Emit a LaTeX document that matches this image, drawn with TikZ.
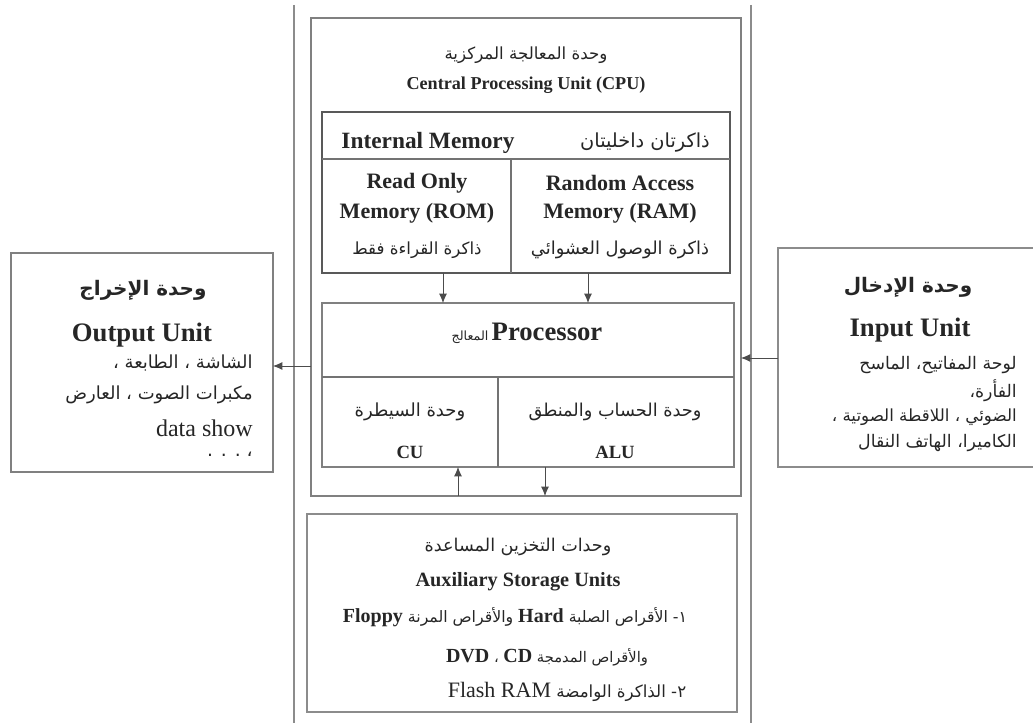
\documentclass[tikz,border=0pt]{standalone}
\usepackage{fontspec}
\setmainfont{Liberation Serif}
\newfontfamily\arabicfont[Script=Arabic]{DejaVu Sans}
\TeXXeTstate=1
\usetikzlibrary{fit,arrows.meta}
\newcommand{\artxt}[2][12]{{\fontsize{#1}{#1}\arabicfont\beginR #2\endR}}
\newcommand{\artxtb}[2][12]{{\fontsize{#1}{#1}\arabicfont\bfseries\beginR #2\endR}}
\newcommand{\latb}[2]{\beginL{\fontsize{#1}{#1}\rmfamily\bfseries #2}\endL{}}
\newcommand{\latr}[2]{\beginL{\fontsize{#1}{#1}\rmfamily\mdseries #2}\endL{}}
\begin{document}
\begin{tikzpicture}[x=0.75pt,y=-0.75pt,
  box/.style={draw=black!50, line width=1.4pt, inner sep=0pt, outer sep=0pt},
  membox/.style={draw=black!65, line width=1.3pt, inner sep=0pt, outer sep=0pt},
  thinbox/.style={draw=black!45, line width=1.1pt, inner sep=0pt, outer sep=0pt},
  divline/.style={draw=black!55, line width=1.1pt},
  outerline/.style={draw=black!45, line width=1.5pt},
  lbl/.style={inner sep=0pt, text=black!85},
  arr/.style={draw=black!70, line width=0.7pt, -{Latex[length=7pt,width=6pt]}}]
\useasboundingbox (0,0) rectangle (1033,723);
\fill[white] (0,0) rectangle (1033,723);
% outer vertical lines
\draw[outerline] (294,5) -- (294,723);
\draw[outerline] (751,5) -- (751,723);
% boxes
\node[box, fit={(311,18)(741,496)}] (cpu) {};
\node[membox, fit={(322,112)(730,273)}] (mem) {};
\draw[divline] (322,159) -- (730,159);
\draw[divline] (511,159) -- (511,273);
\node[box, fit={(322,303)(734,467)}] (proc) {};
\draw[divline] (322,377) -- (734,377);
\draw[divline] (498,377) -- (498,467);
\node[thinbox, fit={(307,514)(737,712)}] (aux) {};
\node[box, fit={(11,253)(273,472)}] (out) {};
\node[thinbox, fit={(778,248)(1045,467)}] (inp) {};
% arrows
\coordinate (xa) at (443,0);
\coordinate (xb) at (588,0);
\coordinate (xc) at (458,0);
\coordinate (xd) at (545,0);
\coordinate (yo) at (0,366);
\coordinate (yi) at (0,358);
\draw[arr] (xa |- mem.south) -- (xa |- proc.north);
\draw[arr] (xb |- mem.south) -- (xb |- proc.north);
\draw[arr] (xc |- cpu.south) -- (xc |- proc.south);
\draw[arr] (xd |- proc.south) -- (xd |- cpu.south);
\draw[arr] (yo -| cpu.west) -- (yo -| out.east);
\draw[arr] (yi -| inp.west) -- (yi -| cpu.east);
% CPU texts
\node[lbl] (cpuar) at (526,55) {\artxt[12.5]{وحدة المعالجة المركزية}};
\node[lbl, font=\bfseries\fontsize{13.6}{16}\selectfont] (cpuen) at (526,85) {Central Processing Unit (CPU)};
\node[lbl, font=\bfseries\fontsize{17.5}{20}\selectfont] (memen) at (428,143) {Internal Memory};
\node[lbl] (memar) at (645,143) {\artxt[14.5]{ذاكرتان داخليتان}};
\node[lbl, font=\bfseries\fontsize{16.5}{19}\selectfont] (rom1) at (417,183) {Read Only};
\node[lbl, font=\bfseries\fontsize{16.5}{19}\selectfont] (rom2) at (417,213) {Memory (ROM)};
\node[lbl] (romar) at (417,250) {\artxt[12.5]{ذاكرة القراءة فقط}};
\node[lbl, font=\bfseries\fontsize{16.5}{19}\selectfont] (ram1) at (620,183) {Random Access};
\node[lbl, font=\bfseries\fontsize{16.5}{19}\selectfont] (ram2) at (620,213) {Memory (RAM)};
\node[lbl] (ramar) at (620,250) {\artxt[13.4]{ذاكرة الوصول العشوائي}};
\node[lbl] (procl) at (527,333) {\artxt[9.5]{المعالج} {\bfseries\fontsize{20}{22}\selectfont Processor}};
\node[lbl] (cuar) at (410,412) {\artxt[13.5]{وحدة السيطرة}};
\node[lbl, font=\bfseries\fontsize{14}{16}\selectfont] (cuen) at (410,452) {CU};
\node[lbl] (aluar) at (615,412) {\artxt[13.3]{وحدة الحساب والمنطق}};
\node[lbl, font=\bfseries\fontsize{14}{16}\selectfont] (aluen) at (615,452) {ALU};
% Output unit
\node[lbl] (outar) at (143,290) {\artxtb[15]{وحدة الإخراج}};
\node[lbl, font=\bfseries\fontsize{20}{22}\selectfont] (outen) at (142,335) {Output Unit};
\node[lbl, anchor=east] (out1) at (253,363) {\artxt[13.5]{الشاشة ، الطابعة ،}};
\node[lbl, anchor=east] (out2) at (253,395) {\artxt[13.5]{مكبرات الصوت ، العارض}};
\node[lbl, anchor=east, font=\fontsize{18}{20}\selectfont] (out3) at (253,428) {data show};
\node[lbl, anchor=east] (out4) at (253,454) {\artxt[14]{، . . .}};
% Input unit
\node[lbl] (inar) at (908,287) {\artxtb[15]{وحدة الإدخال}};
\node[lbl, font=\bfseries\fontsize{20}{22}\selectfont] (inen) at (910,330) {Input Unit};
\node[lbl, anchor=east] (in1) at (1017,365) {\artxt[13]{لوحة المفاتيح، الماسح}};
\node[lbl, anchor=east] (in2) at (1017,391) {\artxt[13]{الفأرة،}};
\node[lbl, anchor=east] (in3) at (1017,417) {\artxt[12.5]{الضوئي ، اللاقطة الصوتية ،}};
\node[lbl, anchor=east] (in4) at (1017,443) {\artxt[13]{الكاميرا، الهاتف النقال}};
% Auxiliary storage
\node[lbl] (auxar) at (518,547) {\artxt[13.2]{وحدات التخزين المساعدة}};
\node[lbl, font=\bfseries\fontsize{15.2}{18}\selectfont] (auxen) at (518,582) {Auxiliary Storage Units};
\node[lbl] (aux1) at (515,617) {\artxt[11.8]{١-  الأقراص الصلبة \latb{15}{Hard} والأقراص المرنة \latb{15}{Floppy}}};
\node[lbl] (aux2) at (547,657) {\artxt[11]{والأقراص المدمجة \latb{15}{CD} ، \latb{15}{DVD}}};
\node[lbl] (aux3) at (567,692) {\artxt[12.5]{٢-  الذاكرة الوامضة  \latr{16.5}{Flash RAM}}};
\end{tikzpicture}
\end{document}
